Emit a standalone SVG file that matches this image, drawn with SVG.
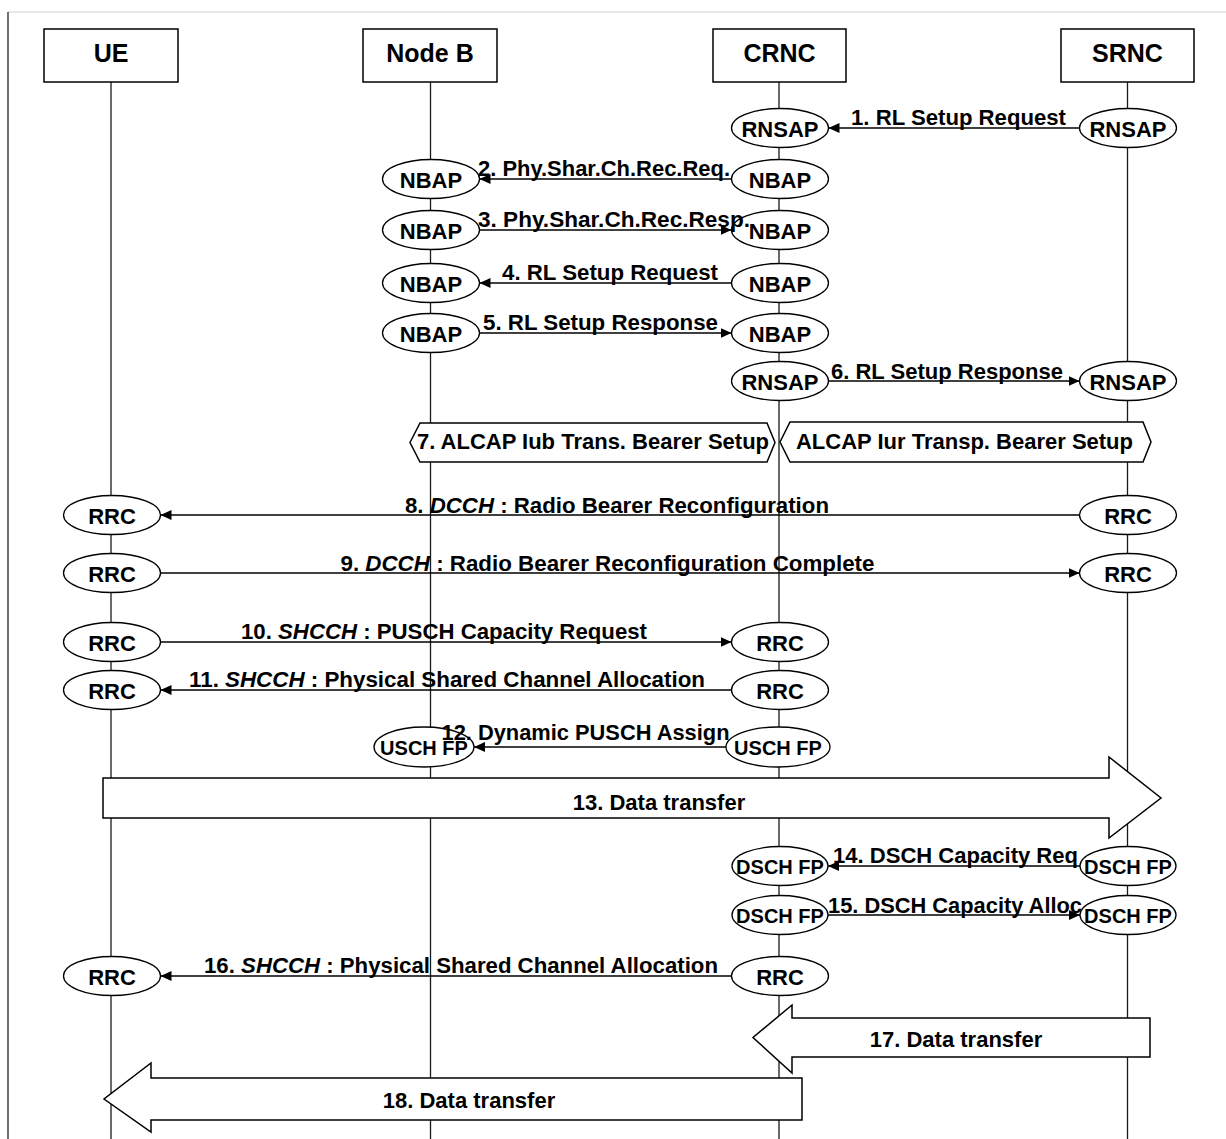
<svg xmlns="http://www.w3.org/2000/svg" width="1226" height="1139" viewBox="0 0 1226 1139">
<style>
.frame{stroke:#222;stroke-width:1.3}
.topline{stroke:#e2e2e2;stroke-width:1.3}
.box{fill:#fff;stroke:#000;stroke-width:1.5}
.life{stroke:#1a1a1a;stroke-width:1.3}
.ent{fill:#fff;stroke:#000;stroke-width:1.3}
.hdr{font-family:"Liberation Sans",Arial,sans-serif;font-weight:bold;font-size:25px;text-anchor:middle;fill:#000}
.et{font-family:"Liberation Sans",Arial,sans-serif;font-weight:bold;font-size:22px;text-anchor:middle;fill:#000}
.fp{font-family:"Liberation Sans",Arial,sans-serif;font-weight:bold;font-size:20px;text-anchor:middle;fill:#000}
.msg{fill:none;stroke:#000;stroke-width:1.5;marker-end:url(#ah)}
.lbl{font-family:"Liberation Sans",Arial,sans-serif;font-weight:bold;font-size:22px;fill:#000}
.it{font-style:italic}
.big{fill:#fff;stroke:#000;stroke-width:1.5}
.bt{font-family:"Liberation Sans",Arial,sans-serif;font-weight:bold;font-size:22px;text-anchor:middle;fill:#000}
</style>
<defs>
<marker id="ah" markerUnits="userSpaceOnUse" markerWidth="12" markerHeight="11" refX="11" refY="5" orient="auto">
<path d="M0,0 L11,5 L0,10 z" fill="#000"/>
</marker>
</defs>
<rect x="0" y="0" width="1226" height="1139" fill="#fff"/>
<line class="topline" x1="8" y1="12" x2="1226" y2="12"/>
<line class="frame" x1="8" y1="12" x2="8" y2="1139"/>

<g id="lifelines">
<line class="life" x1="111" y1="82" x2="111" y2="1139"/>
<line class="life" x1="430.5" y1="82" x2="430.5" y2="1139"/>
<line class="life" x1="779" y1="82" x2="779" y2="1139"/>
<line class="life" x1="1127.5" y1="82" x2="1127.5" y2="1139"/>
</g>

<g id="UE"><rect class="box" x="44" y="29" width="134" height="53"/><text class="hdr" x="111" y="62">UE</text></g>
<g id="NodeB"><rect class="box" x="363" y="29" width="134" height="53"/><text class="hdr" x="430" y="62">Node B</text></g>
<g id="CRNC"><rect class="box" x="713" y="29" width="133" height="53"/><text class="hdr" x="779.5" y="62">CRNC</text></g>
<g id="SRNC"><rect class="box" x="1061" y="29" width="133" height="53"/><text class="hdr" x="1127.5" y="62">SRNC</text></g>

<g id="rnsap-crnc-1"><ellipse class="ent" cx="780" cy="128" rx="48.5" ry="19.5"/><text class="et" x="780" y="136.5">RNSAP</text></g>
<g id="rnsap-srnc-1"><ellipse class="ent" cx="1128" cy="128" rx="48.5" ry="19.5"/><text class="et" x="1128" y="136.5">RNSAP</text></g>
<g id="nbap-nodeb-2"><ellipse class="ent" cx="431" cy="179" rx="48.5" ry="19.5"/><text class="et" x="431" y="187.5">NBAP</text></g>
<g id="nbap-crnc-2"><ellipse class="ent" cx="780" cy="179" rx="48.5" ry="19.5"/><text class="et" x="780" y="187.5">NBAP</text></g>
<g id="nbap-nodeb-3"><ellipse class="ent" cx="431" cy="230" rx="48.5" ry="19.5"/><text class="et" x="431" y="238.5">NBAP</text></g>
<g id="nbap-crnc-3"><ellipse class="ent" cx="780" cy="230" rx="48.5" ry="19.5"/><text class="et" x="780" y="238.5">NBAP</text></g>
<g id="nbap-nodeb-4"><ellipse class="ent" cx="431" cy="283" rx="48.5" ry="19.5"/><text class="et" x="431" y="291.5">NBAP</text></g>
<g id="nbap-crnc-4"><ellipse class="ent" cx="780" cy="283" rx="48.5" ry="19.5"/><text class="et" x="780" y="291.5">NBAP</text></g>
<g id="nbap-nodeb-5"><ellipse class="ent" cx="431" cy="333" rx="48.5" ry="19.5"/><text class="et" x="431" y="341.5">NBAP</text></g>
<g id="nbap-crnc-5"><ellipse class="ent" cx="780" cy="333" rx="48.5" ry="19.5"/><text class="et" x="780" y="341.5">NBAP</text></g>
<g id="rnsap-crnc-6"><ellipse class="ent" cx="780" cy="381" rx="48.5" ry="19.5"/><text class="et" x="780" y="389.5">RNSAP</text></g>
<g id="rnsap-srnc-6"><ellipse class="ent" cx="1128" cy="381" rx="48.5" ry="19.5"/><text class="et" x="1128" y="389.5">RNSAP</text></g>
<g id="rrc-ue-8"><ellipse class="ent" cx="112" cy="515" rx="48.5" ry="19.5"/><text class="et" x="112" y="523.5">RRC</text></g>
<g id="rrc-srnc-8"><ellipse class="ent" cx="1128" cy="515" rx="48.5" ry="19.5"/><text class="et" x="1128" y="523.5">RRC</text></g>
<g id="rrc-ue-9"><ellipse class="ent" cx="112" cy="573" rx="48.5" ry="19.5"/><text class="et" x="112" y="581.5">RRC</text></g>
<g id="rrc-srnc-9"><ellipse class="ent" cx="1128" cy="573" rx="48.5" ry="19.5"/><text class="et" x="1128" y="581.5">RRC</text></g>
<g id="rrc-ue-10"><ellipse class="ent" cx="112" cy="642" rx="48.5" ry="19.5"/><text class="et" x="112" y="650.5">RRC</text></g>
<g id="rrc-crnc-10"><ellipse class="ent" cx="780" cy="642" rx="48.5" ry="19.5"/><text class="et" x="780" y="650.5">RRC</text></g>
<g id="rrc-ue-11"><ellipse class="ent" cx="112" cy="690" rx="48.5" ry="19.5"/><text class="et" x="112" y="698.5">RRC</text></g>
<g id="rrc-crnc-11"><ellipse class="ent" cx="780" cy="690" rx="48.5" ry="19.5"/><text class="et" x="780" y="698.5">RRC</text></g>
<g id="uschfp-nodeb-12"><ellipse class="ent" cx="424" cy="747" rx="50" ry="20"/><text class="fp" x="424" y="754.5">USCH FP</text></g>
<g id="uschfp-crnc-12"><ellipse class="ent" cx="778" cy="747" rx="52" ry="20"/><text class="fp" x="778" y="754.5">USCH FP</text></g>
<g id="dschfp-crnc-14"><ellipse class="ent" cx="780" cy="866" rx="48" ry="19.5"/><text class="fp" x="780" y="873.5">DSCH FP</text></g>
<g id="dschfp-srnc-14"><ellipse class="ent" cx="1128" cy="866" rx="48" ry="19.5"/><text class="fp" x="1128" y="873.5">DSCH FP</text></g>
<g id="dschfp-crnc-15"><ellipse class="ent" cx="780" cy="915" rx="48" ry="19.5"/><text class="fp" x="780" y="922.5">DSCH FP</text></g>
<g id="dschfp-srnc-15"><ellipse class="ent" cx="1128" cy="915" rx="48" ry="19.5"/><text class="fp" x="1128" y="922.5">DSCH FP</text></g>
<g id="rrc-ue-16"><ellipse class="ent" cx="112" cy="976" rx="48.5" ry="19.5"/><text class="et" x="112" y="984.5">RRC</text></g>
<g id="rrc-crnc-16"><ellipse class="ent" cx="780" cy="976" rx="48.5" ry="19.5"/><text class="et" x="780" y="984.5">RRC</text></g>

<g id="connectors">
<path class="msg" d="M1079.5,128 H828.5"/>
<text class="lbl" x="851" y="125" textLength="215" lengthAdjust="spacingAndGlyphs">1. RL Setup Request</text>
<path class="msg" d="M731.5,179 H479.5"/>
<text class="lbl" x="478" y="176" textLength="252" lengthAdjust="spacingAndGlyphs">2. Phy.Shar.Ch.Rec.Req.</text>
<path class="msg" d="M479.5,230 H731.5"/>
<text class="lbl" x="478" y="227" textLength="272" lengthAdjust="spacingAndGlyphs">3. Phy.Shar.Ch.Rec.Resp.</text>
<path class="msg" d="M731.5,283 H479.5"/>
<text class="lbl" x="502" y="280" textLength="216" lengthAdjust="spacingAndGlyphs">4. RL Setup Request</text>
<path class="msg" d="M479.5,333 H731.5"/>
<text class="lbl" x="483" y="330" textLength="235" lengthAdjust="spacingAndGlyphs">5. RL Setup Response</text>
<path class="msg" d="M828.5,381 H1079.5"/>
<text class="lbl" x="831" y="378.5" textLength="232" lengthAdjust="spacingAndGlyphs">6. RL Setup Response</text>
<path class="msg" d="M1079.5,515 H160.5"/>
<text class="lbl" x="405" y="512.5" textLength="424" lengthAdjust="spacingAndGlyphs">8. <tspan class="it">DCCH</tspan> : Radio Bearer Reconfiguration</text>
<path class="msg" d="M160.5,573 H1079.5"/>
<text class="lbl" x="340.5" y="570.5" textLength="534" lengthAdjust="spacingAndGlyphs">9. <tspan class="it">DCCH</tspan> : Radio Bearer Reconfiguration Complete</text>
<path class="msg" d="M160.5,642 H731.5"/>
<text class="lbl" x="241" y="639" textLength="406" lengthAdjust="spacingAndGlyphs">10. <tspan class="it">SHCCH</tspan> : PUSCH Capacity Request</text>
<path class="msg" d="M731.5,690 H160.5"/>
<text class="lbl" x="189" y="687" textLength="516" lengthAdjust="spacingAndGlyphs">11. <tspan class="it">SHCCH</tspan> : Physical Shared Channel Allocation</text>
<path class="msg" d="M726,747 H474"/>
<text class="lbl" x="441.5" y="740" textLength="288" lengthAdjust="spacingAndGlyphs">12. Dynamic PUSCH Assign</text>
<path class="msg" d="M1080,866 H828"/>
<text class="lbl" x="833" y="863" textLength="245" lengthAdjust="spacingAndGlyphs">14. DSCH Capacity Req</text>
<path class="msg" d="M828,915 H1080"/>
<text class="lbl" x="828" y="912.5" textLength="254" lengthAdjust="spacingAndGlyphs">15. DSCH Capacity Alloc</text>
<path class="msg" d="M731.5,976 H160.5"/>
<text class="lbl" x="204" y="973" textLength="514" lengthAdjust="spacingAndGlyphs">16. <tspan class="it">SHCCH</tspan> : Physical Shared Channel Allocation</text>
</g>

<g id="step7-iub">
<polygon class="big" points="410,442.5 420,423 767,423 775,442.5 767,462 420,462"/>
<text class="bt" x="593" y="448.5">7. ALCAP Iub Trans. Bearer Setup</text>
</g>
<g id="step7-iur">
<polygon class="big" points="780,442 790,422 1143,422 1151,442 1143,462 790,462"/>
<text class="bt" x="964.5" y="449">ALCAP Iur Transp. Bearer Setup</text>
</g>

<g id="step13">
<polygon class="big" points="103,778 1109,778 1109,757 1161,798 1109,838 1109,818 103,818"/>
<text class="bt" x="659" y="810">13. Data transfer</text>
</g>
<g id="step17">
<polygon class="big" points="1150,1018 1150,1057 792,1057 792,1073 753,1037.5 792,1005 792,1018"/>
<text class="bt" x="956" y="1047">17. Data transfer</text>
</g>
<g id="step18">
<polygon class="big" points="802,1078 802,1120 151,1120 151,1132 104,1099 151,1063 151,1078"/>
<text class="bt" x="469" y="1108">18. Data transfer</text>
</g>
</svg>
